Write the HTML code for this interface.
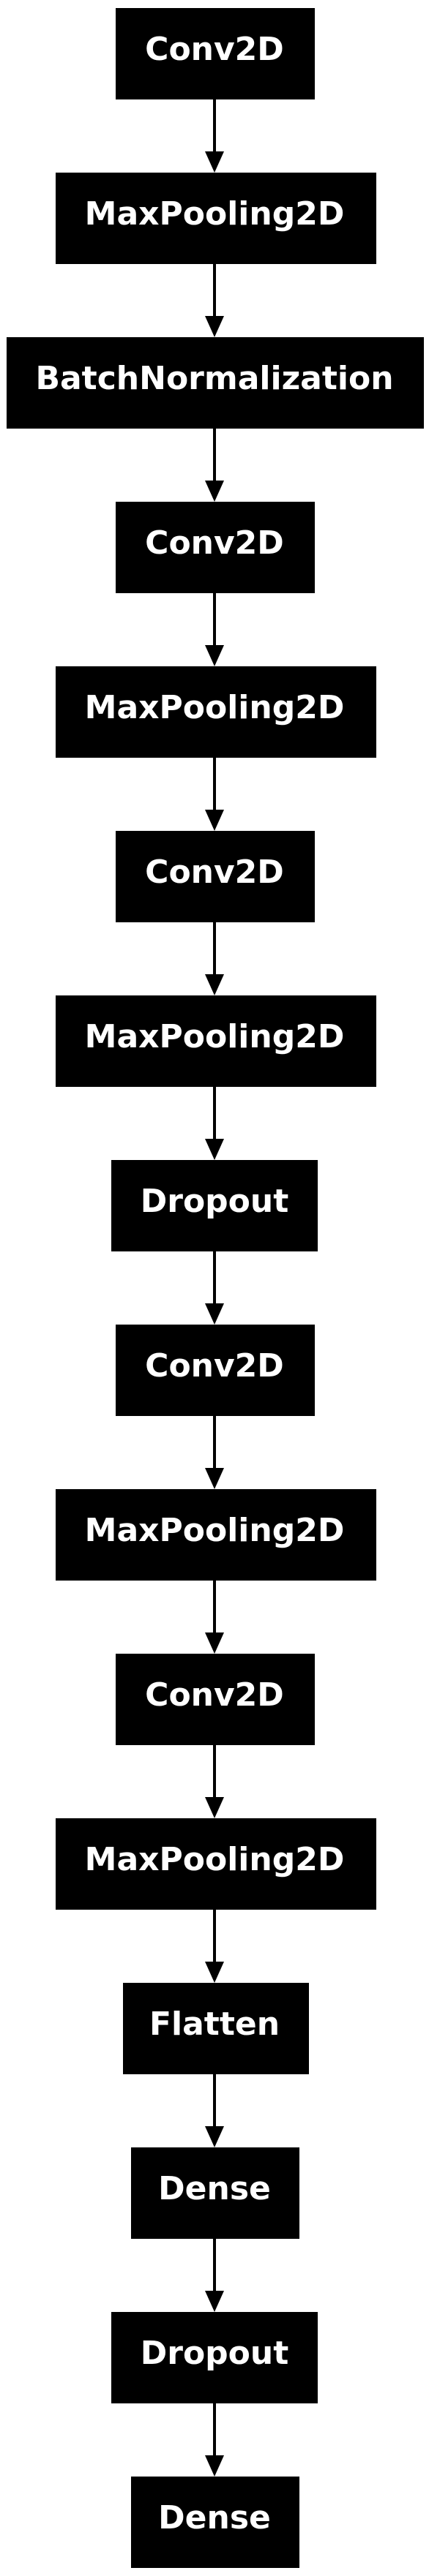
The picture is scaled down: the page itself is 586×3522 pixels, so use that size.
<!DOCTYPE html>
<html><head><meta charset="utf-8"><style>
html,body{margin:0;padding:0;background:#fff;}
svg{display:block;}
text{font-family:"DejaVu Sans","Liberation Sans",sans-serif;font-weight:bold;font-size:44px;fill:#fff;}
</style></head><body>
<svg width="586" height="3522" viewBox="0 0 586 3522" xmlns="http://www.w3.org/2000/svg">
<g id="g"></g>
<rect x="158" y="11" width="272" height="125" fill="#000"/><text x="293" y="82" text-anchor="middle">Conv2D</text>
<rect x="76" y="236" width="438" height="125" fill="#000"/><text x="293" y="307" text-anchor="middle">MaxPooling2D</text>
<rect x="9" y="461" width="570" height="125" fill="#000"/><text x="293" y="532" text-anchor="middle">BatchNormalization</text>
<rect x="158" y="686" width="272" height="125" fill="#000"/><text x="293" y="757" text-anchor="middle">Conv2D</text>
<rect x="76" y="911" width="438" height="125" fill="#000"/><text x="293" y="982" text-anchor="middle">MaxPooling2D</text>
<rect x="158" y="1136" width="272" height="125" fill="#000"/><text x="293" y="1207" text-anchor="middle">Conv2D</text>
<rect x="76" y="1361" width="438" height="125" fill="#000"/><text x="293" y="1432" text-anchor="middle">MaxPooling2D</text>
<rect x="152" y="1586" width="282" height="125" fill="#000"/><text x="293" y="1657" text-anchor="middle">Dropout</text>
<rect x="158" y="1811" width="272" height="125" fill="#000"/><text x="293" y="1882" text-anchor="middle">Conv2D</text>
<rect x="76" y="2036" width="438" height="125" fill="#000"/><text x="293" y="2107" text-anchor="middle">MaxPooling2D</text>
<rect x="158" y="2261" width="272" height="125" fill="#000"/><text x="293" y="2332" text-anchor="middle">Conv2D</text>
<rect x="76" y="2486" width="438" height="125" fill="#000"/><text x="293" y="2557" text-anchor="middle">MaxPooling2D</text>
<rect x="168" y="2711" width="254" height="125" fill="#000"/><text x="293" y="2782" text-anchor="middle">Flatten</text>
<rect x="179" y="2936" width="230" height="125" fill="#000"/><text x="293" y="3007" text-anchor="middle">Dense</text>
<rect x="152" y="3161" width="282" height="125" fill="#000"/><text x="293" y="3232" text-anchor="middle">Dropout</text>
<rect x="179" y="3386" width="230" height="125" fill="#000"/><text x="293" y="3457" text-anchor="middle">Dense</text>
<g fill="#000" stroke="none">
<rect x="291" y="136" width="4" height="72"/><polygon points="280,207 306,207 293,236"/>
<rect x="291" y="361" width="4" height="72"/><polygon points="280,432 306,432 293,461"/>
<rect x="291" y="586" width="4" height="72"/><polygon points="280,657 306,657 293,686"/>
<rect x="291" y="811" width="4" height="72"/><polygon points="280,882 306,882 293,911"/>
<rect x="291" y="1036" width="4" height="72"/><polygon points="280,1107 306,1107 293,1136"/>
<rect x="291" y="1261" width="4" height="72"/><polygon points="280,1332 306,1332 293,1361"/>
<rect x="291" y="1486" width="4" height="72"/><polygon points="280,1557 306,1557 293,1586"/>
<rect x="291" y="1711" width="4" height="72"/><polygon points="280,1782 306,1782 293,1811"/>
<rect x="291" y="1936" width="4" height="72"/><polygon points="280,2007 306,2007 293,2036"/>
<rect x="291" y="2161" width="4" height="72"/><polygon points="280,2232 306,2232 293,2261"/>
<rect x="291" y="2386" width="4" height="72"/><polygon points="280,2457 306,2457 293,2486"/>
<rect x="291" y="2611" width="4" height="72"/><polygon points="280,2682 306,2682 293,2711"/>
<rect x="291" y="2836" width="4" height="72"/><polygon points="280,2907 306,2907 293,2936"/>
<rect x="291" y="3061" width="4" height="72"/><polygon points="280,3132 306,3132 293,3161"/>
<rect x="291" y="3286" width="4" height="72"/><polygon points="280,3357 306,3357 293,3386"/>
</g>
</svg>
</body></html>
